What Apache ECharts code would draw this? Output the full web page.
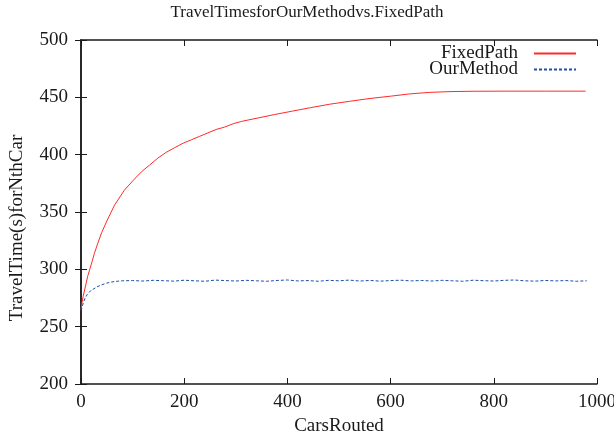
<!DOCTYPE html>
<html>
<head>
<meta charset="utf-8">
<script src="https://cdn.jsdelivr.net/npm/echarts@6/dist/echarts.min.js"></script>
<style>
  html, body { margin: 0; padding: 0; background: #fff; }
  #chart { width: 614px; height: 436px; }
</style>
</head>
<body>
<div id="chart"></div>
<script>
// series names
var seriesNames = ['FixedPath', 'OurMethod'];

// FixedPath: [cars routed, travel time]
var fixedPath = [
  [0, 265], [2, 271], [4, 276], [7, 282], [10, 288], [13, 294], [17, 300],
  [21, 306], [26, 314], [32, 322], [40, 332], [52, 344], [65, 356],
  [84, 369], [100, 377], [117, 385], [133, 391], [149, 397], [165, 402],
  [181, 406], [198, 410], [214, 413], [230, 416], [246, 419], [262, 422],
  [278, 424], [295, 427], [311, 429], [343, 432], [375, 435], [410, 438],
  [445, 441], [482, 444], [520, 446.5], [560, 449], [600, 451], [637, 453],
  [675, 454.3], [715, 455], [760, 455.3], [820, 455.4], [900, 455.4], [978, 455.4]
];

// OurMethod: [cars routed, travel time]
var ourMethod = [
  [0, 264], [4, 270], [8, 275], [12, 278], [16, 280], [20, 282], [25, 283],
  [30, 284.5], [40, 286.5], [50, 288], [60, 289], [70, 289.6], [80, 290],
  [100, 290.2], [120, 289.8], [140, 290.4], [160, 290.1], [180, 289.7],
  [200, 290.5], [220, 290], [240, 289.6], [260, 290.6], [280, 290.2],
  [300, 289.8], [320, 290.4], [340, 290], [360, 289.6], [380, 290.3],
  [400, 290.7], [420, 289.9], [440, 290.2], [460, 289.6], [480, 290.4],
  [500, 290], [520, 290.6], [540, 289.8], [560, 290.3], [580, 289.7],
  [600, 290.2], [620, 290.5], [640, 289.9], [660, 290.3], [680, 289.8],
  [700, 290.4], [720, 290], [740, 289.6], [760, 290.5], [780, 290.1],
  [800, 289.8], [820, 290.4], [840, 290.7], [860, 290], [880, 289.7],
  [900, 290.3], [920, 289.9], [940, 290.2], [960, 289.6], [980, 290]
];

// axis ticks
var xTicks = [0, 200, 400, 600, 800, 1000];
var yTicks = [200, 250, 300, 350, 400, 450, 500];

var chart = echarts.init(document.getElementById('chart'));
var font = 'Liberation Serif';
var ink = '#1a1a1a';
var fs = 19;

function axisBase(show) {
  return {
    axisLine: { show: true, lineStyle: { color: ink, width: 1.5 } },
    axisTick: { show: true, inside: true, length: 6, lineStyle: { color: ink, width: 1 } },
    splitLine: { show: false },
    axisLabel: { show: show, color: ink, fontFamily: font, fontSize: fs }
  };
}

var option = {
  backgroundColor: '#ffffff',
  animation: false,
  title: {
    text: 'TravelTimesforOurMethodvs.FixedPath',
    left: 'center',
    top: 4,
    padding: 0,
    textStyle: { fontFamily: font, fontSize: 17, fontWeight: 'normal', color: ink }
  },
  legend: {
    data: seriesNames,
    orient: 'vertical',
    right: 32,
    top: 39,
    align: 'right',
    itemWidth: 42,
    itemHeight: 10,
    itemGap: -3,
    itemStyle: { opacity: 0 },
    textStyle: { fontFamily: font, fontSize: fs, lineHeight: 16, color: ink, padding: [0, 11, 0, 0] }
  },
  grid: { left: 81, right: 17, top: 40, bottom: 52, containLabel: false, outerBoundsMode: 'none' },
  xAxis: [
    Object.assign(axisBase(true), {
      type: 'value', min: 0, max: 1000, interval: 200,
      name: 'CarsRouted', nameLocation: 'middle', nameGap: 33,
      nameTextStyle: { fontFamily: font, fontSize: fs, color: ink },
      axisLabel: { color: ink, fontFamily: font, fontSize: fs, margin: 9,
        customValues: xTicks, formatter: function (v) { return String(v); } }
    }),
    Object.assign(axisBase(false), {
      type: 'value', position: 'top', min: 0, max: 1000, interval: 200
    })
  ],
  yAxis: [
    Object.assign(axisBase(true), {
      type: 'value', min: 200, max: 500, interval: 50,
      name: 'TravelTime(s)forNthCar', nameLocation: 'middle', nameGap: 54,
      nameTextStyle: { fontFamily: font, fontSize: fs, color: ink, padding: [0, 32, 0, 0] },
      axisLabel: { color: ink, fontFamily: font, fontSize: fs, margin: 13,
        customValues: yTicks }
    }),
    Object.assign(axisBase(false), {
      type: 'value', position: 'right', min: 200, max: 500, interval: 50
    })
  ],
  series: [
    {
      name: seriesNames[0],
      type: 'line',
      data: fixedPath,
      showSymbol: false,
      symbol: 'none',
      lineStyle: { color: '#ff2a2a', width: 1 },
      itemStyle: { color: '#ff2a2a' }
    },
    {
      name: seriesNames[1],
      type: 'line',
      data: ourMethod,
      showSymbol: false,
      symbol: 'none',
      lineStyle: { color: '#1f4fa8', width: 1, type: [3, 2] },
      itemStyle: { color: '#1f4fa8' }
    }
  ]
};

chart.setOption(option);
</script>
</body>
</html>
